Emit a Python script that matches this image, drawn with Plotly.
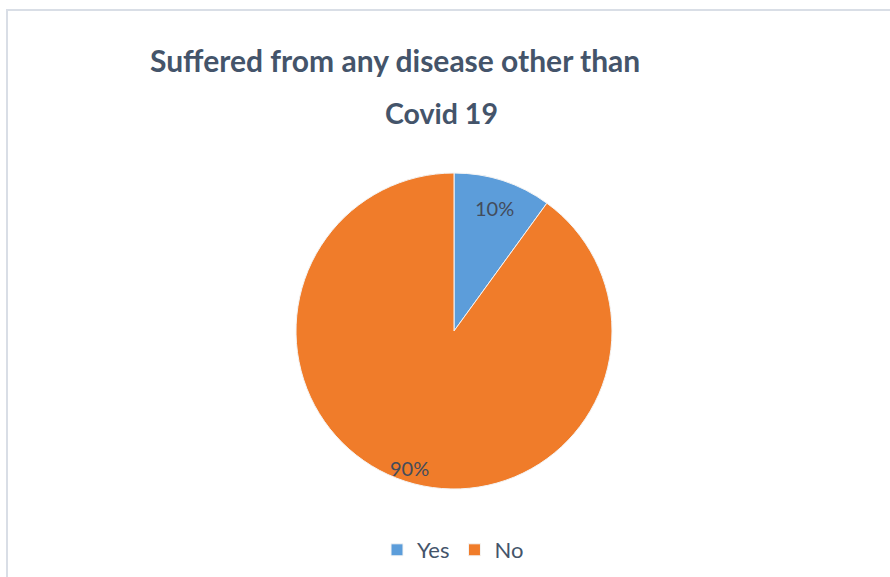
import math
import plotly.graph_objects as go

# Survey answers: suffered from any disease other than Covid 19
categories = ["Yes", "No"]
shares = [10, 90]
slice_colors = ["#5C9DDA", "#F07C2A"]

title_line1 = "Suffered from any disease other than"
title_line2 = "Covid 19"

W, H = 890, 577
cx, cy, r = 454, 331, 158

fig = go.Figure(
    go.Pie(
        labels=categories,
        values=shares,
        sort=False,
        direction="clockwise",
        rotation=0,
        marker=dict(colors=slice_colors, line=dict(color="#F4F4F4", width=1)),
        textinfo="none",
        hoverinfo="label+percent",
        domain=dict(x=[(cx - r) / W, (cx + r) / W], y=[(H - cy - r) / H, (H - cy + r) / H]),
    )
)

# percentage labels placed along each slice's middle angle
label_radius = {"Yes": 0.82, "No": 0.91}
total = sum(shares)
start = 0.0
for cat, val in zip(categories, shares):
    mid = math.radians((start + val / 2) / total * 360)
    start += val
    rr = r * label_radius[cat]
    px = cx + rr * math.sin(mid)
    py = cy - rr * math.cos(mid)
    fig.add_annotation(text="%d%%" % round(val / total * 100), x=px / W, y=1 - py / H,
                       xref="paper", yref="paper", showarrow=False,
                       font=dict(family="Lato", size=20, color="#434C5C"),
                       xanchor="center", yanchor="middle")

fig.add_annotation(text="<b>%s</b>" % title_line1, x=395 / W, y=1 - 60 / H,
                   xref="paper", yref="paper", showarrow=False,
                   font=dict(family="Lato", size=30, color="#44546A"),
                   xanchor="center", yanchor="middle")
fig.add_annotation(text="<b>%s</b>" % title_line2, x=441 / W, y=1 - 113 / H,
                   xref="paper", yref="paper", showarrow=False,
                   font=dict(family="Lato", size=28.5, color="#44546A"),
                   xanchor="center", yanchor="middle")

# chart frame
fig.add_shape(type="rect", xref="paper", yref="paper",
              x0=7 / W, x1=1.02, y0=-0.02, y1=1 - 10 / H,
              line=dict(color="#D9DEE6", width=2), fillcolor="rgba(0,0,0,0)")

fig.update_layout(
    width=W, height=H,
    margin=dict(l=0, r=0, t=0, b=0),
    paper_bgcolor="white",
    plot_bgcolor="white",
    showlegend=True,
    legend=dict(orientation="h", x=453 / W, y=1 - 550 / H, xanchor="center", yanchor="middle",
                font=dict(family="Lato", size=22, color="#44546A"),
                itemwidth=30, traceorder="normal"),
)

fig.write_html("out.html")
